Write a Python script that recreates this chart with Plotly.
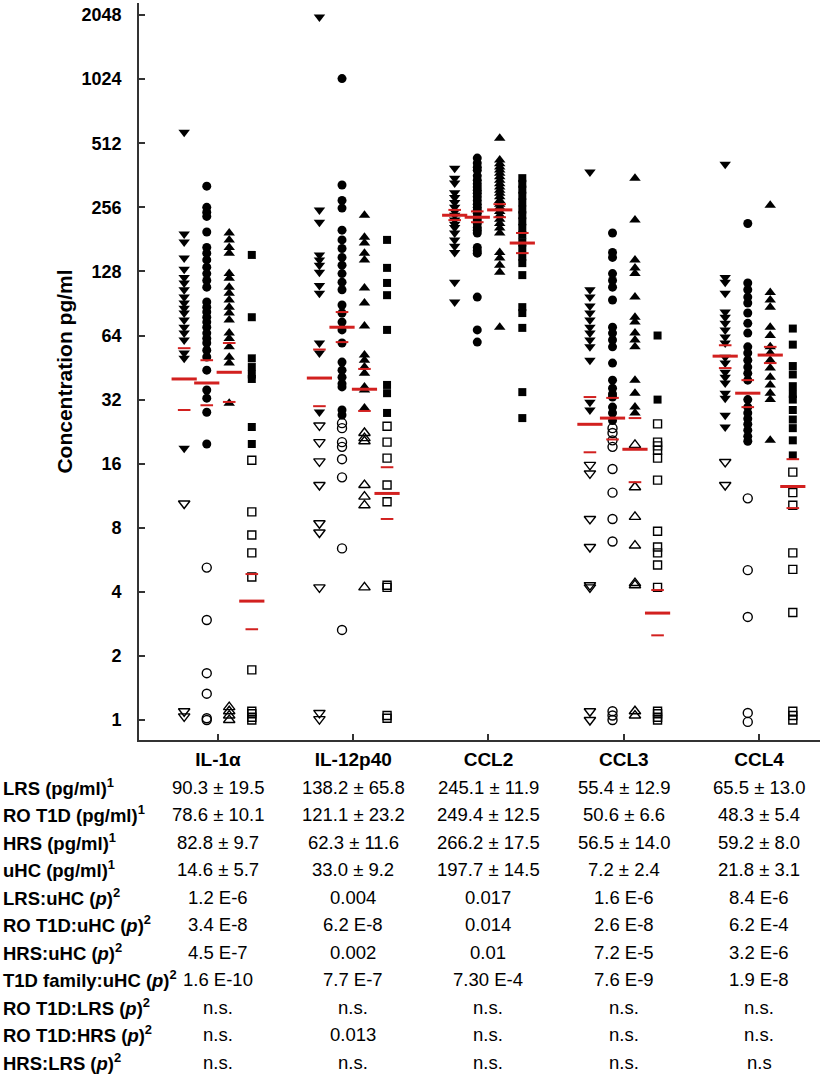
import plotly.graph_objects as go

categories = ["IL-1α", "IL-12p40", "CCL2", "CCL3", "CCL4"]
groups = ["LRS", "RO T1D", "HRS", "uHC"]

# ---- measured values (pg/ml), filled = above detection, open = extrapolated ----
il1a_filled = {
    "LRS": [577, 192, 176, 148, 131, 120, 113, 105, 97, 91, 86, 81.6, 75.6, 70, 65.7, 60.9, 53, 50, 18.9],
    "RO T1D": [322, 256, 243, 232, 196, 166, 156, 145, 134, 125, 116, 108, 92, 87, 82.5, 78, 74, 70, 65.7, 62, 59, 54.6, 50.7, 44, 35.5, 32.5, 27.9, 19.8],
    "HRS": [194, 180, 166, 156, 125, 119, 108, 101, 94, 87, 81.6, 75.6, 65.7, 62, 56.6, 50.6, 47.5, 30.8],
    "uHC": [153, 78, 50, 45.5, 42, 40, 23.8, 19.8],
}
il1a_open = {
    "LRS": [10.4, 1.1, 1.04],
    "RO T1D": [5.2, 2.95, 1.66, 1.33, 1.02, 1.0],
    "HRS": [1.15, 1.1, 1.05, 1.0],
    "uHC": [16.6, 9.5, 7.4, 6.1, 4.7, 1.72, 1.1, 1.07, 1.03, 1.0],
}
il12_filled = {
    "LRS": [2005, 249, 218, 153, 145, 137, 127, 110, 101, 59, 53, 28],
    "RO T1D": [1030, 326, 276, 254, 200, 180, 164, 149, 137, 125, 114, 105, 89, 81.6, 74, 68, 59, 48, 44, 40.8, 38, 36.7, 28.6, 27.1],
    "HRS": [235, 185, 174, 156, 145, 107, 91, 71, 51.8, 49, 45.5, 42.5, 36.7, 35.5, 29.2],
    "uHC": [180, 133, 113, 99, 68, 37.5, 34.3, 27.7],
}
il12_open = {
    "LRS": [24.2, 20.2, 16.4, 12.7, 8.4, 7.6, 4.2, 1.08, 1.01],
    "RO T1D": [24.8, 23.5, 20.2, 19.2, 16.8, 13.8, 6.4, 2.65],
    "HRS": [22.3, 21.1, 20.4, 12.7, 11.2, 10.2, 4.2],
    "uHC": [24, 20.2, 17, 12.7, 10.6, 4.3, 4.2, 1.05, 1.02],
}
ccl2_filled = {
    "LRS": [391, 351, 333, 300, 285, 270, 256, 245, 235, 223, 213, 206, 194, 180, 168, 157, 114, 92],
    "RO T1D": [436, 413, 395, 382, 360, 343, 330, 319, 308, 298, 287, 276, 265, 256, 248, 240, 230, 223, 215, 206, 200, 194, 166, 160, 156, 97, 68, 59.6],
    "HRS": [541, 427, 410, 396, 383, 370, 356, 343, 330, 319, 308, 298, 287, 276, 265, 256, 245, 235, 225, 215, 205, 194, 157, 148, 137, 127, 70],
    "uHC": [351, 330, 310, 290, 270, 250, 235, 220, 205, 190, 175, 163, 150, 140, 123, 87, 81.6, 69.5, 34.7, 26.2],
}
ccl2_open = {"LRS": [], "RO T1D": [], "HRS": [], "uHC": []}
ccl3_filled = {
    "LRS": [375, 105, 97, 88, 81.6, 75.6, 70, 65.7, 61, 56.6, 49, 31.1, 28.6],
    "RO T1D": [194, 157, 149, 125, 116, 108, 94, 70, 65.7, 61, 56.6, 47.5, 39.5, 36.2, 34, 32.9, 29.5, 27.7, 25.5],
    "HRS": [351, 223, 145, 133, 125, 97, 78, 74, 65.7, 61, 56.6, 39.5, 34.3, 29.5, 27.7],
    "uHC": [64, 32],
}
ccl3_open = {
    "LRS": [15.8, 14.4, 8.8, 6.5, 4.3, 4.2, 1.1, 1.0],
    "RO T1D": [23.5, 22.3, 20.6, 19.2, 15.1, 11.7, 8.8, 6.9, 1.1, 1.05, 1.0],
    "HRS": [19.6, 12.4, 9.0, 6.6, 4.4, 4.3, 1.1, 1.05],
    "uHC": [24.6, 20.2, 19.4, 18.5, 17, 13.4, 7.7, 6.5, 6.1, 5.35, 4.2, 1.1, 1.07, 1.03, 1.0],
}
ccl4_filled = {
    "LRS": [408, 120, 114, 101, 82.5, 78, 73, 68, 63, 59, 50.6, 47.5, 43, 40.8, 38.3, 34.3, 32.5, 27, 23.8],
    "RO T1D": [215, 113, 105, 97, 91, 81.6, 73, 65.7, 56.6, 53, 49, 45.5, 42.5, 39.5, 32, 29.5, 27.7, 26, 24.5, 23, 21.5, 20.4],
    "HRS": [262, 102, 94, 87, 70, 64, 56.6, 53, 49, 45, 40.8, 37.5, 34.3, 32, 20.6],
    "uHC": [69, 58, 46, 42, 37, 34, 32, 28.6, 25.8, 23.5, 20.6, 17.5],
}
ccl4_open = {
    "LRS": [16.3, 12.7],
    "RO T1D": [11, 5.06, 3.05, 1.08, 0.98],
    "HRS": [],
    "uHC": [14.6, 11.7, 10.2, 6.1, 5.1, 3.2, 1.1, 1.05, 1.0],
}

# geometric mean and +/- SEM markers (red), order: LRS, RO T1D, HRS, uHC
gm_center = {
    "IL-1α": [40, 38.3, 43, 3.62],
    "IL-12p40": [40.4, 70, 35.8, 11.6],
    "CCL2": [235, 230, 249, 174],
    "CCL3": [24.5, 26.2, 18.7, 3.18],
    "CCL4": [51.2, 34.3, 51.8, 12.5],
}
gm_upper = {
    "IL-1α": [55.8, 49, 59, 4.85],
    "IL-12p40": [55, 82.5, 44.6, 15.4],
    "CCL2": [249, 245, 265, 194],
    "CCL3": [32.9, 32.6, 26.2, 4.08],
    "CCL4": [57.6, 39.5, 56.6, 16.8],
}
gm_lower = {
    "IL-1α": [28.6, 30.1, 31.2, 2.67],
    "IL-12p40": [29.8, 59.6, 28.3, 8.8],
    "CCL2": [223, 218, 230, 156],
    "CCL3": [18.1, 20.8, 13.1, 2.5],
    "CCL4": [45, 29.5, 47.5, 9.9],
}

filled_by_cat = [il1a_filled, il12_filled, ccl2_filled, ccl3_filled, ccl4_filled]
open_by_cat = [il1a_open, il12_open, ccl2_open, ccl3_open, ccl4_open]

# ---- table below the plot ----
row_labels = [
    "LRS (pg/ml)<sup>1</sup>",
    "RO T1D (pg/ml)<sup>1</sup>",
    "HRS (pg/ml)<sup>1</sup>",
    "uHC (pg/ml)<sup>1</sup>",
    "LRS:uHC (<i>p</i>)<sup>2</sup>",
    "RO T1D:uHC (<i>p</i>)<sup>2</sup>",
    "HRS:uHC (<i>p</i>)<sup>2</sup>",
    "T1D family:uHC (<i>p</i>)<sup>2</sup>",
    "RO T1D:LRS (<i>p</i>)<sup>2</sup>",
    "RO T1D:HRS (<i>p</i>)<sup>2</sup>",
    "HRS:LRS (<i>p</i>)<sup>2</sup>",
]
table_il1a = ["90.3 ± 19.5", "78.6 ± 10.1", "82.8 ± 9.7", "14.6 ± 5.7", "1.2 E-6", "3.4 E-8", "4.5 E-7", "1.6 E-10", "n.s.", "n.s.", "n.s."]
table_il12 = ["138.2 ± 65.8", "121.1 ± 23.2", "62.3 ± 11.6", "33.0 ± 9.2", "0.004", "6.2 E-8", "0.002", "7.7 E-7", "n.s.", "0.013", "n.s."]
table_ccl2 = ["245.1 ± 11.9", "249.4 ± 12.5", "266.2 ± 17.5", "197.7 ± 14.5", "0.017", "0.014", "0.01", "7.30 E-4", "n.s.", "n.s.", "n.s."]
table_ccl3 = ["55.4 ± 12.9", "50.6 ± 6.6", "56.5 ± 14.0", "7.2 ± 2.4", "1.6 E-6", "2.6 E-8", "7.2 E-5", "7.6 E-9", "n.s.", "n.s.", "n.s."]
table_ccl4 = ["65.5 ± 13.0", "48.3 ± 5.4", "59.2 ± 8.0", "21.8 ± 3.1", "8.4 E-6", "6.2 E-4", "3.2 E-6", "1.9 E-8", "n.s.", "n.s.", "n.s"]
table_cols = [table_il1a, table_il12, table_ccl2, table_ccl3, table_ccl4]

ytick_vals = [1, 2, 4, 8, 16, 32, 64, 128, 256, 512, 1024, 2048]

# ---- styling ----
FONT = "Liberation Sans, Arial, Helvetica, sans-serif"
W, H = 827, 1074
ML, MR, MT, MB = 139, 7, 3, 334
offsets = {"LRS": -0.25, "RO T1D": -0.083, "HRS": 0.083, "uHC": 0.25}
sym_filled = {"LRS": "triangle-down", "RO T1D": "circle", "HRS": "triangle-up", "uHC": "square"}
sym_open = {"LRS": "triangle-down-open", "RO T1D": "circle-open", "HRS": "triangle-up-open", "uHC": "square-open"}
sizes = {"LRS": 10, "RO T1D": 9, "HRS": 10, "uHC": 8}
RED = "#d2201f"

fig = go.Figure()

for g in groups:
    xs, ys = [], []
    xo, yo = [], []
    for ci in range(len(categories)):
        for v in filled_by_cat[ci][g]:
            xs.append(ci + offsets[g]); ys.append(v)
        for v in open_by_cat[ci][g]:
            xo.append(ci + offsets[g]); yo.append(v)
    fig.add_trace(go.Scatter(x=xs, y=ys, mode="markers", name=g, showlegend=False,
                             marker=dict(symbol=sym_filled[g], size=sizes[g], color="black",
                                         line=dict(width=0))))
    fig.add_trace(go.Scatter(x=xo, y=yo, mode="markers", name=g + " (open)", showlegend=False,
                             marker=dict(symbol=sym_open[g], size=sizes[g], color="black",
                                         line=dict(width=1.4, color="black"))))

for gi, g in enumerate(groups):
    xc = [ci + offsets[g] for ci in range(len(categories))]
    fig.add_trace(go.Scatter(x=xc, y=[gm_center[c][gi] for c in categories], mode="markers",
                             showlegend=False,
                             marker=dict(symbol="line-ew", size=18, color=RED,
                                         line=dict(width=3, color=RED))))
    fig.add_trace(go.Scatter(x=xc + xc, y=[gm_upper[c][gi] for c in categories] + [gm_lower[c][gi] for c in categories],
                             mode="markers", showlegend=False,
                             marker=dict(symbol="line-ew", size=9, color=RED,
                                         line=dict(width=2, color=RED))))

# table annotations
plot_h = H - MT - MB
row_px = [787, 814, 842, 869, 897, 924, 952, 979, 1007, 1034, 1062]
annotations = []
for ri, lab in enumerate(row_labels):
    yp = (H - MB - row_px[ri]) / plot_h
    annotations.append(dict(text="<b>" + lab + "</b>", xref="paper", yref="paper",
                            x=(1 - ML) / (W - ML - MR), y=yp, xanchor="left", yanchor="middle",
                            showarrow=False, font=dict(family=FONT, size=18.5, color="black")))
    for ci in range(len(categories)):
        annotations.append(dict(text=table_cols[ci][ri], xref="x", yref="paper",
                                x=ci, y=yp, xanchor="center", yanchor="middle",
                                showarrow=False, font=dict(family=FONT, size=18.5, color="black")))

fig.update_layout(
    width=W, height=H,
    margin=dict(l=ML, r=MR, t=MT, b=MB),
    paper_bgcolor="white", plot_bgcolor="white",
    font=dict(family=FONT, color="black"),
    annotations=annotations,
    xaxis=dict(range=[-0.584, 4.451], tickvals=list(range(len(categories))), ticktext=categories,
               tickfont=dict(family=FONT, size=19, color="black", weight="bold"),
               ticks="inside", ticklen=6, tickwidth=1.5, tickcolor="#333",
               showline=True, linecolor="#333", linewidth=1.6,
               showgrid=False, zeroline=False, ticklabelstandoff=1),
    yaxis=dict(type="log", range=[-0.0937, 3.368], tickvals=ytick_vals,
               ticktext=[str(v) for v in ytick_vals],
               tickfont=dict(family=FONT, size=18, color="black", weight="bold"),
               ticks="inside", ticklen=6, tickwidth=1.5, tickcolor="#333",
               showline=True, linecolor="#333", linewidth=1.6,
               showgrid=False, zeroline=False, ticklabelstandoff=12,
               title=dict(text="Concentration pg/ml", standoff=3,
                          font=dict(family=FONT, size=21, color="black", weight="bold"))),
)

fig.write_html("out.html", config={"displayModeBar": False},
               post_script="document.body.style.margin='0px';")
